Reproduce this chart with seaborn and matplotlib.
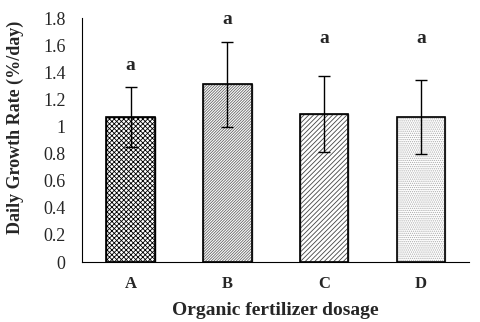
import pandas as pd
import matplotlib
matplotlib.use("Agg")
import matplotlib.pyplot as plt
import seaborn as sns

dosages = ["A", "B", "C", "D"]
growth_rate = [1.07, 1.31, 1.09, 1.07]
std_err = [0.22, 0.31, 0.28, 0.27]
group_letters = ["a", "a", "a", "a"]
letter_heights = [1.45, 1.79, 1.65, 1.65]
y_ticks = [0, 0.2, 0.4, 0.6, 0.8, 1.0, 1.2, 1.4, 1.6, 1.8]
y_tick_labels = ["0", "0.2", "0.4", "0.6", "0.8", "1", "1.2", "1.4", "1.6", "1.8"]

sns.set_style("white")
plt.rcParams["font.family"] = ["Liberation Serif", "DejaVu Serif"]
plt.rcParams["hatch.linewidth"] = 0.6

df = pd.DataFrame({"dosage": dosages, "rate": growth_rate, "err": std_err})

fig, ax = plt.subplots(figsize=(4.8, 3.22), dpi=100)
sns.barplot(data=df, x="dosage", y="rate", color="white", width=0.5,
            edgecolor="black", linewidth=1.0, ax=ax)

# patterns roughly like the original fills
hatches = ["xxxxxxx", "////////////", "///////", "........"]
hatch_cols = ["black", "#666666", "#444444", "#aaaaaa"]
for bar, h, c in zip(ax.patches, hatches, hatch_cols):
    bar.set_hatch(h)
    bar.set_edgecolor(c)
    ax.add_patch(plt.Rectangle(bar.get_xy(), bar.get_width(), bar.get_height(),
                               fill=False, edgecolor="black", linewidth=1.2, zorder=3))

ax.errorbar(range(len(dosages)), growth_rate, yerr=std_err, fmt="none",
            ecolor="black", elinewidth=1.0, capsize=4, capthick=1.0, zorder=4)

for i, (h, lab) in enumerate(zip(letter_heights, group_letters)):
    ax.text(i, h, lab, ha="center", va="center",
            fontsize=14, fontweight="bold")

ax.set_ylim(0, 1.8)
ax.set_xlim(-0.5, 3.5)
ax.set_yticks(y_ticks)
ax.set_yticklabels(y_tick_labels)
ax.tick_params(axis="y", length=0, pad=12, labelsize=13)
ax.tick_params(axis="x", length=0, pad=10, labelsize=12)
for t in ax.get_xticklabels():
    t.set_fontweight("bold")

ax.set_xlabel("Organic fertilizer dosage", fontsize=14, fontweight="bold", labelpad=7)
ax.set_ylabel("Daily Growth Rate (%/day)", fontsize=13, fontweight="bold")
ax.yaxis.set_label_coords(-0.15, 0.55)

sns.despine(ax=ax)
ax.spines["left"].set_color("black")
ax.spines["bottom"].set_color("black")

fig.subplots_adjust(left=0.171, right=0.978, top=0.944, bottom=0.186)
fig.savefig("out.png", dpi=100)
plt.close(fig)
